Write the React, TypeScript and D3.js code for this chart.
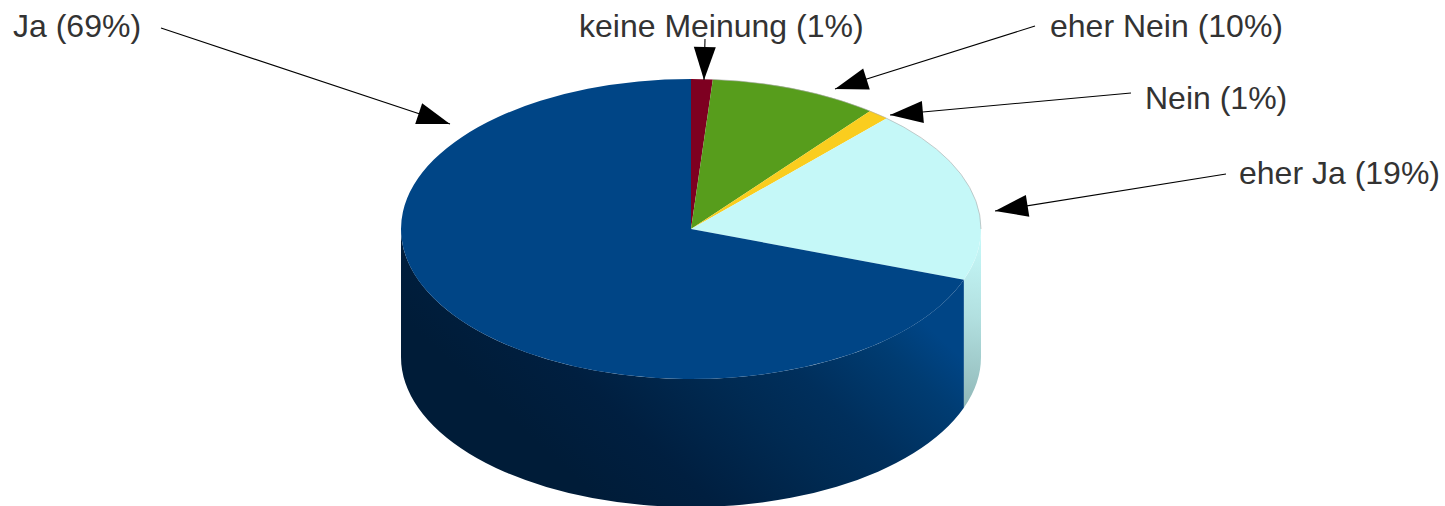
import React from "react";
import * as d3 from "d3";

const categories = ["keine Meinung", "eher Nein", "Nein", "eher Ja", "Ja"];
const shares = [1.2, 9.4, 1.2, 18.7, 69.5];
const percentLabels = ["1%", "10%", "1%", "19%", "69%"];
const colors = ["#7e0021", "#579d1c", "#facd1e", "#c5f8f8", "#004586"];

const W = 1445, H = 506;
const CX = 691, CY = 229, RX = 290, RY = 150, DEPTH = 128;

// label anchor, leader start and arrow tip for each category
const labelX = [579, 1050, 1145, 1239, 13];
const labelY = [37, 37, 109, 184, 37];
const leaderFrom = [[705, 39], [1035, 26], [1131, 93], [1226, 174], [161, 28]];
const leaderTo = [[704, 80], [835, 89], [890, 115], [995, 211], [450, 124]];

const px = (t: number) => CX + RX * Math.sin(t);
const py = (t: number, d = 0) => CY - RY * Math.cos(t) + d;

function arrowHead(from: number[], to: number[]) {
  const a = Math.atan2(to[1] - from[1], to[0] - from[0]);
  const L = 33, HW = 11;
  const bx = to[0] - L * Math.cos(a), by = to[1] - L * Math.sin(a);
  const nx = -Math.sin(a) * HW, ny = Math.cos(a) * HW;
  return `M${to[0]},${to[1]}L${bx + nx},${by + ny}L${bx - nx},${by - ny}Z`;
}

const large = (s: number, e: number) => (e - s > Math.PI ? 1 : 0);

const topPath = (s: number, e: number) =>
  `M${CX},${CY}L${px(s)},${py(s)}A${RX},${RY} 0 ${large(s, e)} 1 ${px(e)},${py(e)}Z`;

const sidePath = (s: number, e: number) =>
  `M${px(s)},${py(s)}A${RX},${RY} 0 ${large(s, e)} 1 ${px(e)},${py(e)}` +
  `L${px(e)},${py(e, DEPTH)}A${RX},${RY} 0 ${large(s, e)} 0 ${px(s)},${py(s, DEPTH)}Z`;

export default function App() {
  const arcs = d3.pie<number>().sort(null)(shares);
  const ja = arcs[4];
  const cyan = arcs[3];
  const rimEnd = Math.PI / 2;
  return (
    <svg width={W} height={H} style={{ position: "absolute", left: 0, top: 0, background: "#fff" }}>
      <defs>
        <linearGradient id="jaSide" gradientUnits="userSpaceOnUse" x1={620} y1={520} x2={880} y2={240}>
          <stop offset="0" stopColor="#001c38" />
          <stop offset="0.2" stopColor="#001f40" />
          <stop offset="0.45" stopColor="#002a52" />
          <stop offset="0.6" stopColor="#002f5c" />
          <stop offset="0.8" stopColor="#003c72" />
          <stop offset="0.92" stopColor="#004586" />
        </linearGradient>
        <linearGradient id="cyanSide" gradientUnits="userSpaceOnUse" x1={985} y1={240} x2={965} y2={410}>
          <stop offset="0" stopColor="#c5f8f8" />
          <stop offset="0.45" stopColor="#b2e0e0" />
          <stop offset="1" stopColor="#8fb6b6" />
        </linearGradient>
      </defs>
      <path d={sidePath(rimEnd, cyan.endAngle)} fill="url(#cyanSide)" />
      <path d={sidePath(ja.startAngle, 3 * Math.PI / 2)} fill="url(#jaSide)" />
      {arcs.map((a, i) => (
        <path key={categories[i]} d={topPath(a.startAngle, a.endAngle)} fill={colors[i]} />
      ))}
      <path
        d={`M${px(arcs[1].startAngle)},${py(arcs[1].startAngle)}A${RX},${RY} 0 0 1 ${px(rimEnd)},${py(rimEnd)}`}
        fill="none" stroke="#aaa" strokeWidth={0.6}
      />
      {categories.map((c, i) => (
        <g key={c}>
          <line x1={leaderFrom[i][0]} y1={leaderFrom[i][1]} x2={leaderTo[i][0]} y2={leaderTo[i][1]} stroke="#000" strokeWidth={1.1} />
          <path d={arrowHead(leaderFrom[i], leaderTo[i])} fill="#000" />
          <text x={labelX[i]} y={labelY[i]} fontFamily="'Liberation Sans'" fontSize={32} fill="#333">{`${c} (${percentLabels[i]})`}</text>
        </g>
      ))}
    </svg>
  );
}
